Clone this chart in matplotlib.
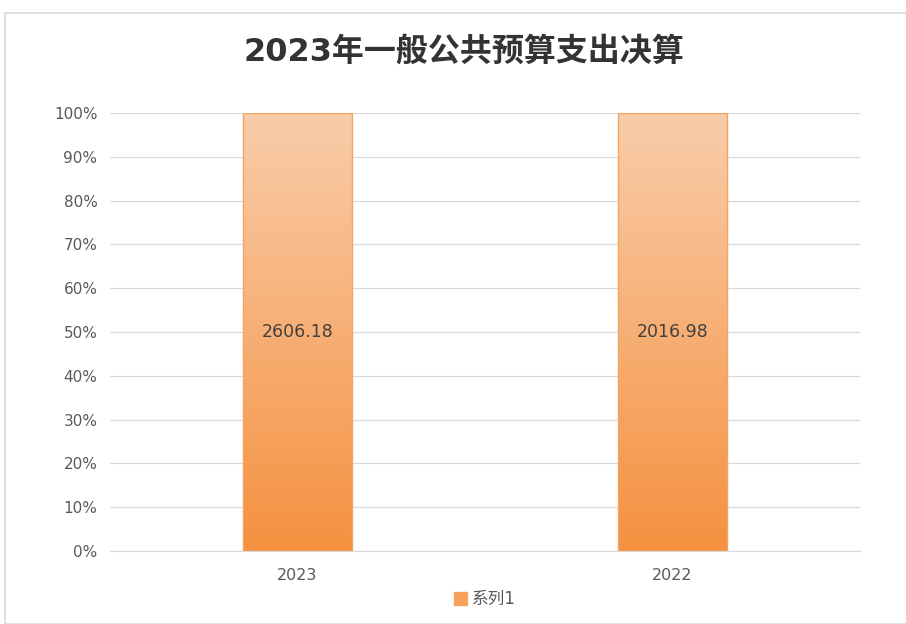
import numpy as np
import matplotlib.pyplot as plt
from matplotlib.colors import LinearSegmentedColormap
from matplotlib.patches import Rectangle

plt.rcParams['font.family'] = ['DejaVu Sans', 'Noto Sans CJK SC']

categories = ['2023', '2022']
values = [2606.18, 2016.98]
series_name = '系列1'
title = '2023年一般公共预算支出决算'

# 100% stacked, single series -> every bar is full height
shares = [v / v for v in values]

fig = plt.figure(figsize=(9.06, 6.24), dpi=100)
fig.patches.append(Rectangle((5 / 906, 0), 1, 1 - 13 / 624, transform=fig.transFigure,
                             fill=False, edgecolor='#D9D9D9', linewidth=1.2))
ax = fig.add_axes([110 / 906, 73 / 624, 750 / 906, 438 / 624])

x = np.arange(len(categories))
bars = ax.bar(x, shares, width=0.29, color='none', edgecolor='#F4A460', linewidth=1.0, zorder=3)

cmap = LinearSegmentedColormap.from_list('og', ['#F59140', '#F9CDAA'])
grad = np.linspace(0, 1, 256).reshape(-1, 1)
for b in bars:
    x0, w, h = b.get_x(), b.get_width(), b.get_height()
    im = ax.imshow(grad, extent=[x0, x0 + w, 0, h], origin='lower', cmap=cmap,
                   aspect='auto', zorder=2)
    im.set_clip_path(b)

for xi, v, s in zip(x, values, shares):
    ax.text(xi, s / 2, f'{v:.2f}', ha='center', va='center', fontsize=12.5,
            color='#404040', zorder=4)

ax.set_xlim(-0.5, len(categories) - 0.5)
ax.set_ylim(0, 1)
ax.set_yticks(np.linspace(0, 1, 11))
ax.set_yticklabels([f'{int(round(t * 100))}%' for t in np.linspace(0, 1, 11)])
ax.set_xticks(x)
ax.set_xticklabels(categories)
ax.tick_params(axis='both', length=0, colors='#595959')
ax.tick_params(axis='y', pad=9, labelsize=11)
ax.tick_params(axis='x', pad=12, labelsize=11.5)
ax.grid(axis='y', color='#D9D9D9', linewidth=0.9, zorder=0)
for sp in ['top', 'right', 'left']:
    ax.spines[sp].set_visible(False)
ax.spines['bottom'].set_color('#D9D9D9')

fig.text(0.512, 1 - 52 / 624, title, ha='center', va='center', fontsize=23,
         fontweight='bold', color='#333333')

ax.legend([Rectangle((0, 0), 1, 1, facecolor='#F7A05A', edgecolor='#F4A460')], [series_name],
          loc='center', bbox_to_anchor=(0.5, -0.11), frameon=False, fontsize=12,
          handlelength=0.8, handleheight=0.8, handletextpad=0.3, labelcolor='#595959')

fig.savefig('out.png', dpi=100)
